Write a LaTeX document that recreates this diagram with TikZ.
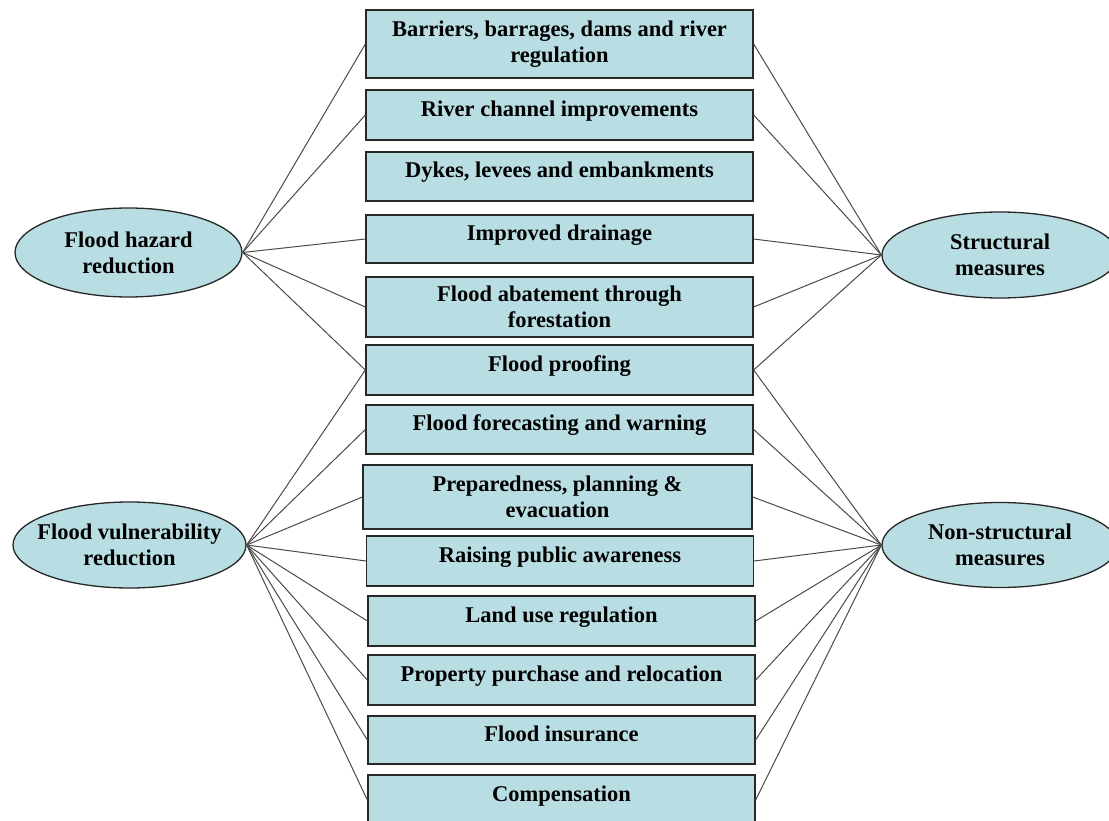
\documentclass[tikz,border=0pt]{standalone}
\usepackage{fontspec}
\setmainfont{Liberation Serif}
\usetikzlibrary{shapes.geometric}
\definecolor{boxfill}{RGB}{184,221,227}
\definecolor{edgecol}{RGB}{40,40,40}
\definecolor{linkcol}{RGB}{75,75,75}
\begin{document}
\begin{tikzpicture}[x=1pt,y=-1pt,
  txt/.style={font=\fontsize{22.5}{26}\selectfont\bfseries, align=center, inner sep=0pt},
  measure/.style={draw=edgecol, line width=1.3pt, fill=boxfill, rectangle, inner sep=0pt,
    txt},
  oneline/.style={measure, text height=0.68em, text depth=0.46em},
  goal/.style={draw=edgecol, line width=1.3pt, fill=boxfill, ellipse, inner sep=0pt},
  goaltext/.style={txt},
  link/.style={draw=linkcol, line width=1pt}]
\useasboundingbox (0,0) rectangle (1109,821);
\clip (0,0) rectangle (1109,821);
\fill[white] (0,0) rectangle (1109,821);

% measure boxes
\node[measure, minimum width=387pt, minimum height=68pt] (b1) at (559.5,44) {Barriers, barrages, dams and river\\regulation};
\node[oneline, minimum width=387pt, minimum height=50pt] (b2) at (559.5,115) {River channel improvements};
\node[oneline, minimum width=387pt, minimum height=49pt] (b3) at (559.5,176.5) {Dykes, levees and embankments};
\node[oneline, minimum width=387pt, minimum height=48pt] (b4) at (559.5,239) {Improved drainage};
\node[measure, minimum width=387pt, minimum height=60pt] (b5) at (559.5,307) {Flood abatement through\\forestation};
\node[oneline, minimum width=387pt, minimum height=50pt] (b6) at (559.5,370) {Flood proofing};
\node[oneline, minimum width=387pt, minimum height=49pt] (b7) at (559.5,429.5) {Flood forecasting and warning};
\node[measure, minimum width=389pt, minimum height=64pt] (b8) at (557.5,497) {Preparedness, planning \&\\evacuation};
\node[oneline, minimum width=387pt, minimum height=50pt] (b9) at (560,561) {Raising public awareness};
\node[oneline, minimum width=387pt, minimum height=50pt] (b10) at (561.5,621) {Land use regulation};
\node[oneline, minimum width=387pt, minimum height=50pt] (b11) at (561.5,680) {Property purchase and relocation};
\node[oneline, minimum width=387pt, minimum height=48pt] (b12) at (561.5,740) {Flood insurance};
\node[oneline, minimum width=387pt, minimum height=50pt] (b13) at (561.5,800) {Compensation};

% goal ellipses
\node[goal, minimum width=227pt, minimum height=89pt,
  label={[goaltext]center:Flood hazard\\reduction}] (hazard) at (128.5,252.5) {};
\node[goal, minimum width=236pt, minimum height=86pt,
  label={[goaltext]center:Structural\\measures}] (struct) at (1000,255) {};
\node[goal, minimum width=233pt, minimum height=86pt,
  label={[goaltext]center:Flood vulnerability\\reduction}] (vuln) at (129.5,545) {};
\node[goal, minimum width=236pt, minimum height=85pt,
  label={[goaltext]center:Non-structural\\measures}] (nonstruct) at (1000,545) {};

% connectors
\foreach \b in {b1,b2,b4,b5,b6} {
  \draw[link] (hazard.east) -- (\b.west);
  \draw[link] (struct.west) -- (\b.east);
}
\foreach \b in {b6,b7,b8,b9,b10,b11,b12,b13} {
  \draw[link] (vuln.east) -- (\b.west);
  \draw[link] (nonstruct.west) -- (\b.east);
}
\end{tikzpicture}
\end{document}
